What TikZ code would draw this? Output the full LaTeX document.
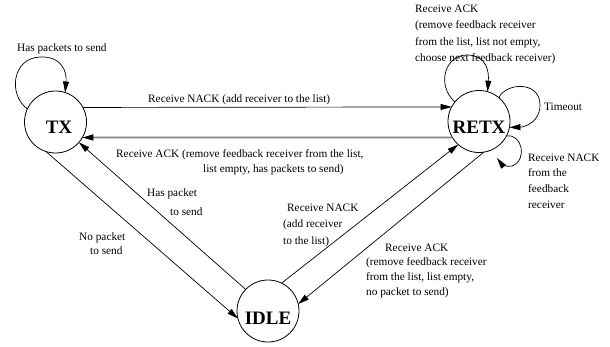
\documentclass[tikz,border=0pt]{standalone}
\usepackage{fontspec}
\setmainfont{Liberation Serif}
\usetikzlibrary{arrows.meta}
\begin{document}
\begin{tikzpicture}[x=1pt,y=-1pt,
  state/.style={circle,draw,line width=0.8pt,minimum size=62pt,inner sep=0pt,outer sep=0pt,font=\fontsize{19}{22}\selectfont\bfseries},
  tr/.style={line width=0.7pt,-{Triangle[length=11pt,width=6pt,color=black]}},
  greytr/.style={tr,line width=1.6pt,draw=black!50},
  lbl/.style={font=\fontsize{11.3}{#1}\selectfont,align=left,inner sep=0pt,anchor=north west}]
\useasboundingbox (0,0) rectangle (610,346);
\node[state] (TX) at (55.5,122) {\hspace*{7pt}\raisebox{-11.3pt}[0pt][0pt]{TX}};
\node[state] (RETX) at (479,121.5) {\raisebox{-11.8pt}[0pt][0pt]{RETX}};
\node[state] (IDLE) at (268,311) {\raisebox{-13.8pt}[0pt][0pt]{IDLE}};
% straight transitions
\draw[tr] (TX.28) -- (RETX.152);
\draw[greytr] (RETX.-149) -- (TX.-30);
\draw[tr] (TX.-108) -- (IDLE.194);
\draw[tr] (IDLE.136) -- (TX.-41);
\draw[tr] (IDLE.64) -- (RETX.228);
\draw[tr] (RETX.-81) -- (IDLE.13);
% self loops
\draw[tr] (TX.155) .. controls (8,95) and (12,58) .. (40,57) .. controls (62,56) and (67,72) .. (TX.72);
\draw[tr] (RETX.141) .. controls (436,85) and (445,55) .. (467,55) .. controls (487,55) and (489,72) .. (RETX.74);
\draw[tr] (RETX.50) .. controls (505,83) and (540,80) .. (540,105) .. controls (540,122) and (525,127) .. (RETX.-11);
\draw[tr,shorten >=10pt] (RETX.-28) .. controls (522,133) and (528,160) .. (512,166) .. controls (506,168) and (500,162) .. (RETX.-67);
% labels
\node[lbl=14] (l1) at (17,43.5) {Has packets to send};
\node[lbl=14] (l2) at (148,94.5) {Receive NACK (add receiver to the list)};
\node[lbl=15] (l3) at (116,149.5) {Receive ACK (remove feedback receiver from the list,\\\hspace*{87pt}list empty, has packets to send)};
\node[lbl=19] (l4) at (147,188.5) {Has packet\\\hspace*{23pt}to send};
\node[lbl=14] (l5) at (79,232.5) {No packet\\\hspace*{11pt}to send};
\node[lbl=16.5] (l6) at (283,203.5) {\hspace*{4pt}Receive NACK\\(add receiver\\to the list)};
\node[lbl=14.7] (l7) at (366,243.5) {\hspace*{19pt}Receive ACK\\(remove feedback receiver\\from the list, list empty,\\no packet to send)};
\node[lbl=16.5] (l8) at (415,4.5) {Receive ACK\\(remove feedback receiver\\from the list, list not empty,\\choose next feedback receiver)};
\node[lbl=15] (l9) at (544,102.5) {Timeout};
\node[lbl=15.7] (l10) at (528,153.5) {Receive NACK\\from the\\feedback\\receiver};
\end{tikzpicture}
\end{document}
